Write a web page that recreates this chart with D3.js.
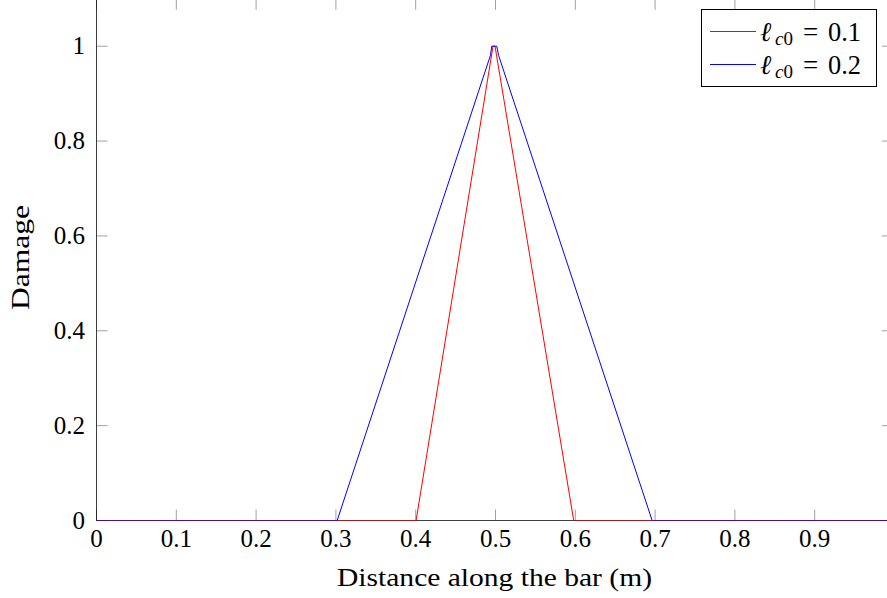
<!DOCTYPE html>
<html><head><meta charset="utf-8">
<script src="https://cdn.jsdelivr.net/npm/d3@7"></script>
<style>body{margin:0;background:#fff}svg{display:block}text{font-family:"Liberation Serif","DejaVu Serif",serif;fill:#000}</style>
</head><body><svg id="c" width="887" height="598"></svg>
<script>
const xTicks = [0, 0.1, 0.2, 0.3, 0.4, 0.5, 0.6, 0.7, 0.8, 0.9];
const xTickLabels = ["0", "0.1", "0.2", "0.3", "0.4", "0.5", "0.6", "0.7", "0.8", "0.9"];
const yTicks = [0, 0.2, 0.4, 0.6, 0.8, 1];
const yTickLabels = ["0", "0.2", "0.4", "0.6", "0.8", "1"];
const redX = [0, 0.4005, 0.4969, 0.4994, 0.598, 1.0];
const redY = [0, 0, 1, 1, 0, 0];
const blueX = [0, 0.3016, 0.4937, 0.4953, 0.5016, 0.5038, 0.6963, 1.0];
const blueY = [0, 0, 0.981, 1, 1, 0.981, 0, 0];
const seriesNames = ["0.1", "0.2"];
const seriesColors = ["#ff0000", "#0000ff"];

const svg = d3.select("#c");
const x = d3.scaleLinear().domain([0, 0.998]).range([96.5, 96.5 + 0.998 * 798]);
const y = d3.scaleLinear().domain([0, 1.1]).range([520.5, 520.5 - 1.1 * 474.3]);
const [x0, x1] = x.range(), [y0, y1] = y.range();

svg.append("defs").append("clipPath").attr("id", "clip")
  .append("rect").attr("x", x0).attr("y", y1).attr("width", x1 - x0).attr("height", y0 - y1);

const tl = 11;
const tg = svg.append("g").attr("stroke", "#a0a0a0").attr("stroke-width", 1);
xTicks.forEach(v => {
  tg.append("line").attr("x1", x(v)).attr("x2", x(v)).attr("y1", y0).attr("y2", y0 - tl);
  tg.append("line").attr("x1", x(v)).attr("x2", x(v)).attr("y1", y1).attr("y2", y1 + tl);
});
yTicks.forEach(v => {
  tg.append("line").attr("y1", y(v)).attr("y2", y(v)).attr("x1", x0).attr("x2", x0 + tl);
  tg.append("line").attr("y1", y(v)).attr("y2", y(v)).attr("x1", x1).attr("x2", x1 - tl);
});

svg.append("rect").attr("x", x0).attr("y", y1).attr("width", x1 - x0).attr("height", y0 - y1)
  .attr("fill", "none").attr("stroke", "#000").attr("stroke-width", 0.75);

const line = d3.line().x(d => x(d[0])).y(d => y(d[1]));
const series = [d3.zip(redX, redY), d3.zip(blueX, blueY)];
const lg = svg.append("g").attr("clip-path", "url(#clip)");
series.forEach((s, i) => {
  lg.append("path").datum(s).attr("d", line).attr("fill", "none")
    .attr("stroke", seriesColors[i]).attr("stroke-width", 1);
});

const fs = 25;
xTicks.forEach((v, i) => {
  svg.append("text").attr("x", x(v)).attr("y", 547).attr("text-anchor", "middle")
    .attr("font-size", fs).text(xTickLabels[i]);
});
yTicks.forEach((v, i) => {
  svg.append("text").attr("x", 85).attr("y", y(v)).attr("dy", "0.33em").attr("text-anchor", "end")
    .attr("font-size", fs).text(yTickLabels[i]);
});

svg.append("text").attr("x", 337).attr("y", 586)
  .attr("font-size", fs).attr("textLength", 315).attr("lengthAdjust", "spacingAndGlyphs")
  .text("Distance along the bar (m)");
svg.append("text").attr("transform", `translate(29,310) rotate(-90)`)
  .attr("font-size", fs).attr("textLength", 105).attr("lengthAdjust", "spacingAndGlyphs")
  .text("Damage");

const lgd = svg.append("g");
lgd.append("rect").attr("x", 701.5).attr("y", 9.5).attr("width", 175).attr("height", 77)
  .attr("fill", "#fff").attr("stroke", "#000").attr("stroke-width", 1);
seriesNames.forEach((n, i) => {
  const ly = 31.5 + i * 33;
  const base = 41 + i * 33;
  lgd.append("line").attr("x1", 710).attr("x2", 756).attr("y1", ly).attr("y2", ly)
    .attr("stroke", seriesColors[i]).attr("stroke-width", 1);
  const t = lgd.append("text").attr("y", base).attr("font-size", 27);
  t.append("tspan").attr("x", 760).attr("font-style", "italic").text("ℓ");
  t.append("tspan").attr("x", 775).attr("font-size", 19).attr("dy", 4).attr("font-style", "italic").text("c");
  t.append("tspan").attr("font-size", 19).text("0");
  lgd.append("text").attr("x", 803).attr("y", base).attr("font-size", 27).text("=");
  lgd.append("text").attr("x", 828).attr("y", base).attr("font-size", 27)
    .attr("textLength", 33).attr("lengthAdjust", "spacingAndGlyphs").text(n);
});
</script></body></html>
